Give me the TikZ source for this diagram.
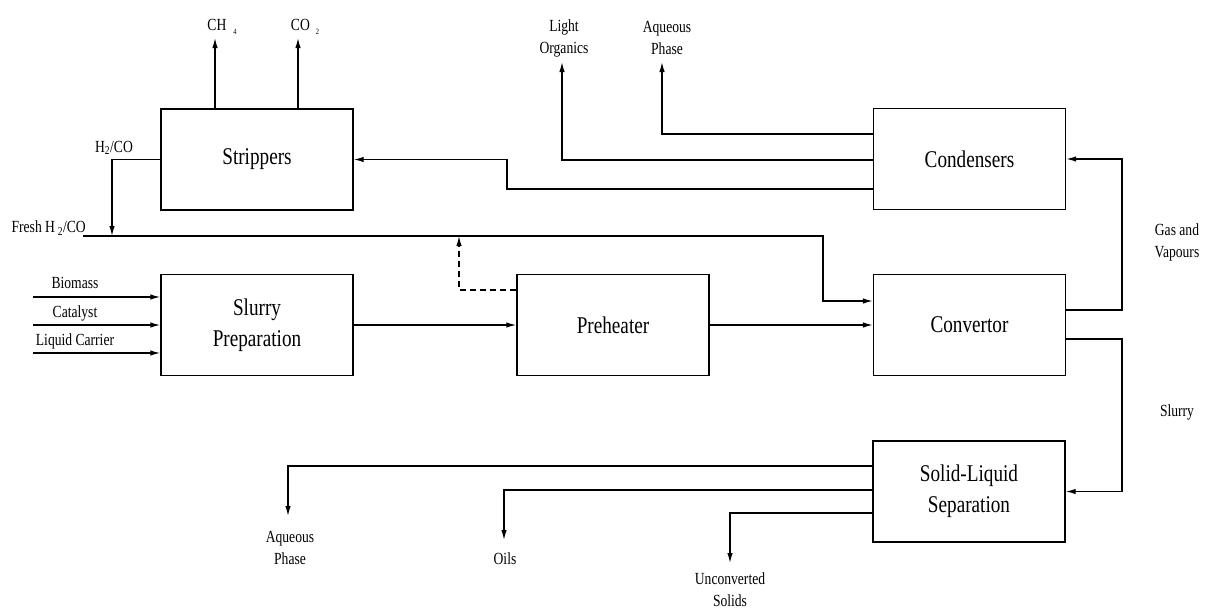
\documentclass[tikz,border=0pt]{standalone}
\usepackage{fontspec}
\setmainfont{Liberation Serif}[FakeStretch=0.8]
\usetikzlibrary{arrows.meta}
\tikzset{
  blk/.style={draw, line width=1.4pt, rectangle, inner sep=0pt, minimum width=192pt, minimum height=101pt, align=center, font=\fontsize{24}{31}\selectfont},
  lbl/.style={align=center, inner sep=0pt, font=\fontsize{17}{22}\selectfont},
  ln/.style={line width=1.3pt},
  arr/.style={ln, -{Latex[length=10pt,width=5.5pt]}},
  dsh/.style={arr, dash pattern=on 6pt off 4pt}
}
\begin{document}
\begin{tikzpicture}[x=1pt,y=-1pt]
\useasboundingbox (0,0) rectangle (1206,611);
% boxes
\node[blk] (strip) at (257,159.5) {Strippers};
\node[blk] (cond) at (969.5,159) {Condensers};
\node[blk] (slurry) at (257,325) {Slurry\\Preparation};
\node[blk] (pre) at (613,325) {Preheater};
\node[blk] (conv) at (969.5,325) {Convertor};
\node[blk] (sls) at (969,491.5) {Solid-Liquid\\Separation};
% labels
\node[lbl] (lch4) at (222,27) {CH\hspace{7pt}\raisebox{-4pt}{\fontsize{8}{9}\selectfont 4}};
\node[lbl] (lco2) at (305,27) {CO\hspace{6pt}\raisebox{-4pt}{\fontsize{8}{9}\selectfont 2}};
\node[lbl] (llo) at (564,38) {Light\\Organics};
\node[lbl] (laq1) at (667,38) {Aqueous\\Phase};
\node[lbl] (lh2) at (114,148) {H\textsubscript{2}/CO};
\node[lbl, anchor=east] (lfresh) at (86,228) {Fresh H\,\textsubscript{2}/CO};
\node[lbl] (lbio) at (75,283) {Biomass};
\node[lbl] (lcat) at (75,313) {Catalyst};
\node[lbl] (lliq) at (75,341) {Liquid Carrier};
\node[lbl] (lgas) at (1177,242) {Gas and\\Vapours};
\node[lbl] (lslu) at (1177,412) {Slurry};
\node[lbl] (laq2) at (290,548) {Aqueous\\Phase};
\node[lbl] (loil) at (505,559) {Oils};
\node[lbl] (lunc) at (730,590) {Unconverted\\Solids};
% coordinates
\coordinate (tch4) at (215,38);
\coordinate (tco2) at (298,38);
\coordinate (tlo) at (562,62);
\coordinate (taq1) at (662,62);
\coordinate (fresh) at (83,236);
\coordinate (j1) at (112,236);
\coordinate (j2) at (459,236);
\coordinate (bio) at (33,297);
\coordinate (cat) at (33,325);
\coordinate (liq) at (33,353);
\coordinate (taq2) at (288,516);
\coordinate (toil) at (504,540);
\coordinate (tunc) at (730,563);
% connectors
\draw[arr] (strip.north -| tch4) -- (tch4);
\draw[arr] (strip.north -| tco2) -- (tco2);
\draw[arr] (cond.west |- 0,160) -| (tlo);
\draw[arr] (cond.west |- 0,134) -| (taq1);
\draw[arr] (cond.west |- 0,189) -| (507,175) |- (strip.east);
\draw[arr] (strip.west) -| (j1);
\draw[arr] (fresh) -| (823,270) |- (conv.west |- 0,301);
\draw[dsh] (pre.west |- 0,290) -| (j2);
\draw[arr] (bio) -- (slurry.west |- bio);
\draw[arr] (cat) -- (slurry.west |- cat);
\draw[arr] (liq) -- (slurry.west |- liq);
\draw[arr] (slurry.east) -- (pre.west);
\draw[arr] (pre.east) -- (conv.west);
\draw[arr] (conv.east |- 0,310) -| (1122,200) |- (cond.east);
\draw[arr] (conv.east |- 0,339) -| (1122,420) |- (sls.east);
\draw[arr] (sls.west |- 0,466) -| (taq2);
\draw[arr] (sls.west |- 0,490) -| (toil);
\draw[arr] (sls.west |- 0,513) -| (tunc);
\end{tikzpicture}
\end{document}
